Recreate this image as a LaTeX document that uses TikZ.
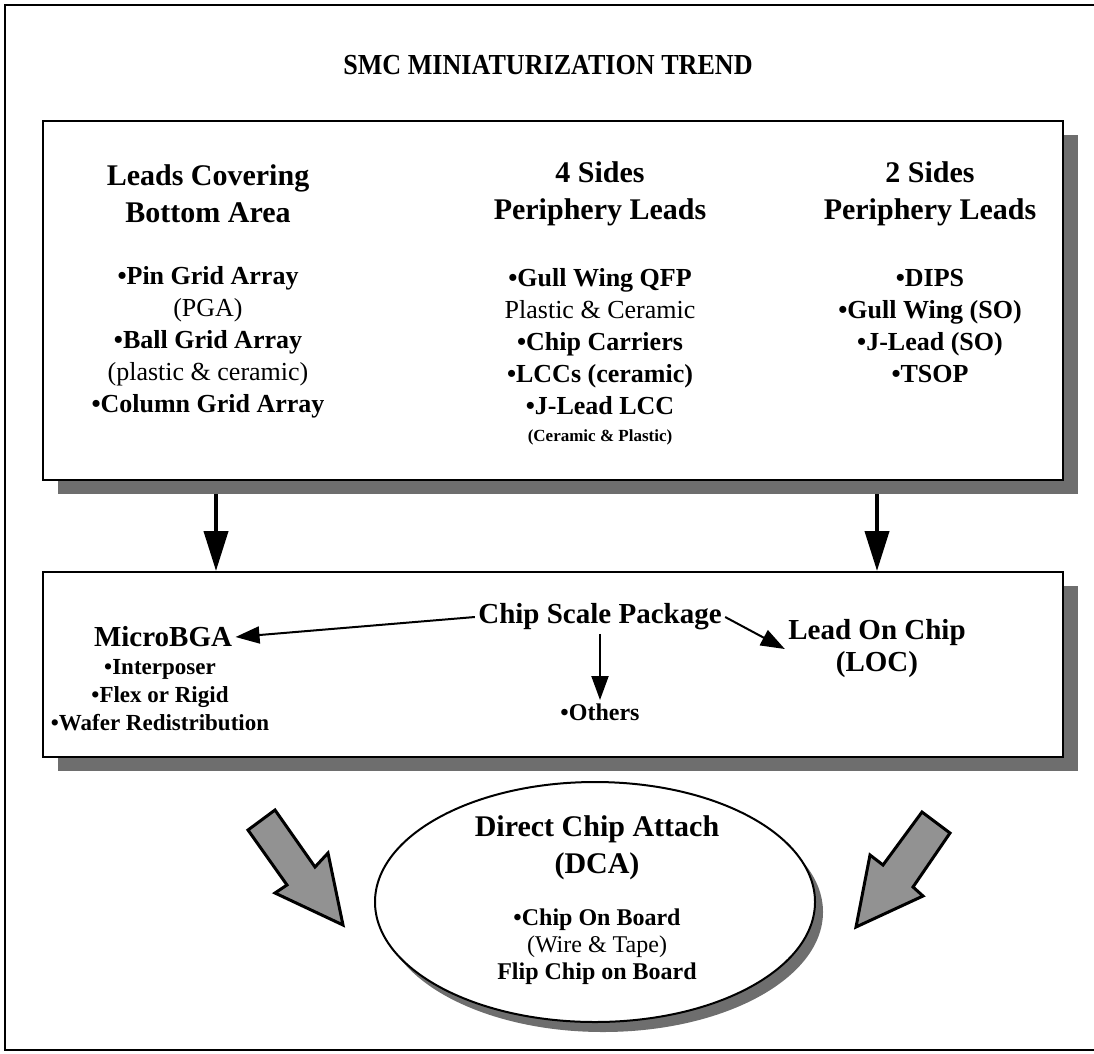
\documentclass[tikz,border=0pt]{standalone}
\usepackage{fontspec}
\setmainfont{Liberation Serif}
\usepackage{xcolor}
\usetikzlibrary{arrows.meta,positioning,calc,shapes.geometric,shadows}
\definecolor{Ink}{HTML}{000000}
\definecolor{Paper}{HTML}{FFFFFF}
\definecolor{Stipple}{HTML}{6E6E6E}

\begin{document}
\begin{tikzpicture}[x=1pt, y=-1pt,
    panel/.style={draw=Ink, line width=2pt, fill=Paper, minimum width=1020pt,
      general shadow={fill=Stipple, shadow xshift=15pt, shadow yshift=-14pt}},
    head/.style={align=center, font=\bfseries\fontsize{30}{37}\selectfont},
    item/.style={align=center, font=\bfseries\fontsize{26}{32}\selectfont},
    arr/.style={-{Triangle[length=24pt, width=17pt]}, line width=2pt, draw=Ink},
    bigarr/.style={-{Triangle[length=40pt, width=24pt]}, line width=4pt, draw=Ink},
    fat/.style={draw=Ink, line width=3pt, line join=miter, fill=Stipple!75}
  ]
    \useasboundingbox (0,0) rectangle (1094,1053);
    \draw[Ink, line width=1.2pt] (1094,5) -- (5,5) -- (5,1050) -- (1094,1050);
    \node[font=\bfseries\fontsize{29}{36}\selectfont, xscale=0.9, transform shape] (title) at (548,65) {SMC MINIATURIZATION TREND};

    % package families
    \node[panel, minimum height=359pt] (leads) at (553,300.5) {};
    \node[head] (bottomhd) at (208,194) {Leads Covering\\Bottom Area};
    \node[head] (foursd) at (600,194) {4 Sides\\Periphery Leads};
    \node[head] (twosd) at (930,194) {2 Sides\\Periphery Leads};
    \node[item] (bottoml) at (208,342) {•Pin Grid Array\\{\mdseries (PGA)}\\•Ball Grid Array\\{\mdseries (plastic \& ceramic)}\\•Column Grid Array};
    \node[item] (fourl) at (600,342) {•Gull Wing QFP\\{\mdseries Plastic \& Ceramic}\\•Chip Carriers\\•LCCs (ceramic)\\•J-Lead LCC};
    \node[font=\bfseries\fontsize{17}{20}\selectfont] (fournote) at (600,437) {(Ceramic \& Plastic)};
    \node[item] (twol) at (930,326) {•DIPS\\•Gull Wing (SO)\\•J-Lead (SO)\\•TSOP};

    % chip scale
    \node[panel, minimum height=185pt] (scale) at (553,664.5) {};
    \draw[bigarr] ([xshift=-337pt, yshift=-13pt]leads.south) -- ([xshift=-337pt]scale.north);
    \draw[bigarr] ([xshift=324pt, yshift=-13pt]leads.south) -- ([xshift=324pt]scale.north);
    \node[item, font=\bfseries\fontsize{29}{32}\selectfont] (csp) at (600,617) {Chip Scale Package};
    \node[item, font=\bfseries\fontsize{29}{32}\selectfont] (micro) at (163,637) {MicroBGA};
    \node[item, font=\bfseries\fontsize{23}{28}\selectfont] (microl) at (160,695) {•Interposer\\•Flex or Rigid\\•Wafer Redistribution};
    \node[item, font=\bfseries\fontsize{29}{32}\selectfont] (loc) at (877,649) {Lead On Chip\\(LOC)};
    \node[item, font=\bfseries\fontsize{24}{28}\selectfont] (others) at (600,712) {•Others};
    \draw[arr] (csp.west) -- (micro.east);
    \draw[arr] (csp.south) -- (others.north);
    \draw[arr] (csp.east) -- (loc.west);

    % direct chip attach
    \node[ellipse, draw=Ink, line width=2pt, fill=Paper, minimum width=440pt, minimum height=240pt,
      general shadow={fill=Stipple, shadow xshift=8pt, shadow yshift=-10pt}] (dca) at (595,902) {};
    \node[head] (dcahd) at (597,848) {Direct Chip Attach\\(DCA)};
    \node[item, font=\bfseries\fontsize{24}{27}\selectfont] (dcal) at (597,947) {•Chip On Board\\{\mdseries (Wire \& Tape)}\\Flip Chip on Board};
    \filldraw[fat] (248,830) -- (275,810) -- (315,867) -- (328,853) -- (343,925) -- (275,893) -- (287,885) -- cycle;
    \filldraw[fat] (922,812) -- (950,833) -- (913,887) -- (923,896) -- (856,927) -- (870,855) -- (883,865) -- cycle;
  \end{tikzpicture}
\end{document}
